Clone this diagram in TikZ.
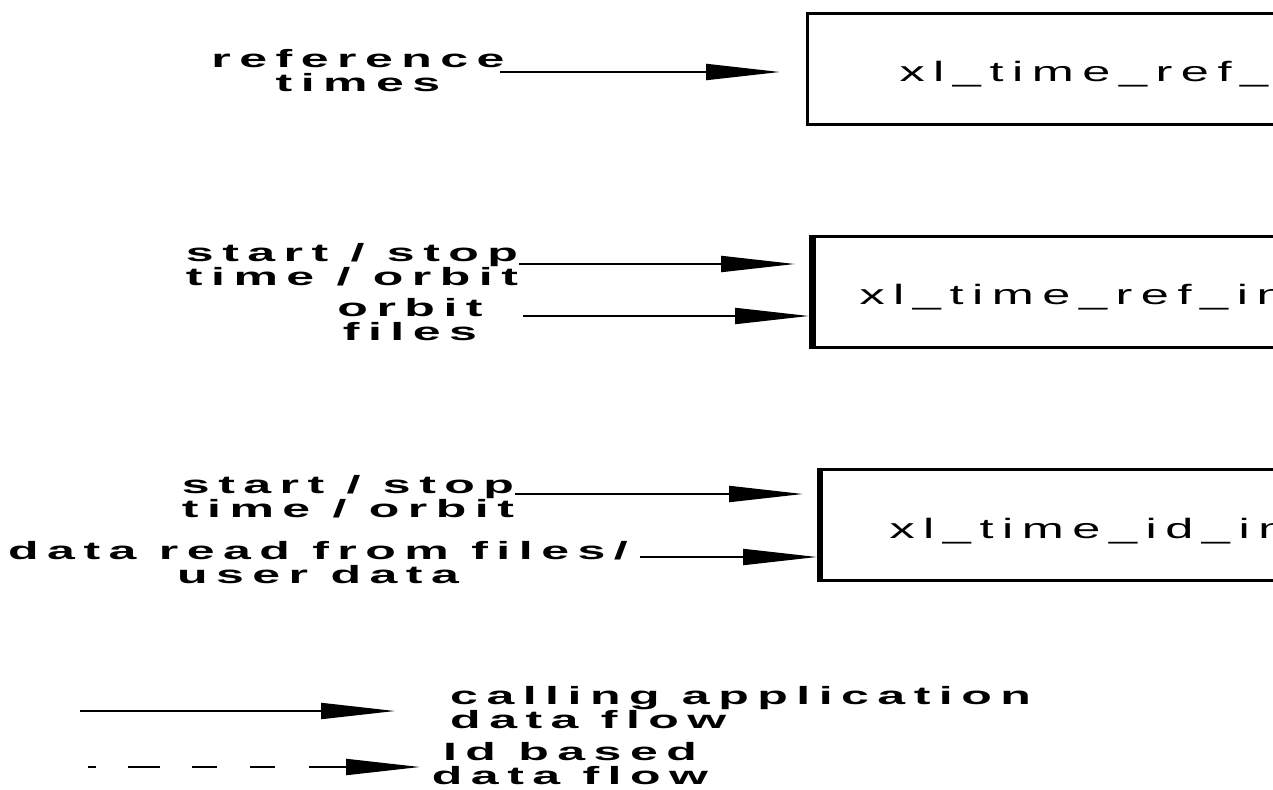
\documentclass[tikz,border=0pt]{standalone}
\usepackage{fontspec}
\usepackage{graphicx}
\usetikzlibrary{arrows.meta}
\setmainfont{Liberation Sans}
\newfontfamily\lblfont{Liberation Sans}[LetterSpace=17]
\newfontfamily\boxfont{Liberation Sans}[LetterSpace=17]
\newcommand\sx[1]{\scalebox{2.0}[1]{#1}}
\newcommand\bx[1]{\scalebox{1.8}[1]{#1}}
\tikzset{
  lbl/.style={inner sep=0pt, align=center, font=\lblfont\bfseries\fontsize{25}{24}\selectfont},
  boxtxt/.style={draw, line width=3pt, anchor=west, minimum height=111pt, text width=520pt,
     align=left, inner ysep=0pt, text height=26pt, text depth=0pt,
     font=\boxfont\fontsize{28}{28}\selectfont},
  flow/.style={line width=2pt, -{Triangle[length=74pt,width=16pt]}},
  thickedge/.style={line width=7pt}
}
\begin{document}
\begin{tikzpicture}[x=1pt,y=-1pt]
\useasboundingbox (0,0) rectangle (1273,789);

% boxes
\node[boxtxt, inner xsep=92.5pt] (b1) at (805.5,69) {\bx{xl\_time\_ref\_}};
\node[boxtxt, inner xsep=48pt] (b2) at (810,291.5) {\bx{xl\_time\_ref\_in}};
\node[boxtxt, inner xsep=70pt] (b3) at (818,525) {\bx{xl\_time\_id\_in}};
\draw[thickedge] ([xshift=2.5pt]b2.north west) -- ([xshift=2.5pt]b2.south west);
\draw[line width=6pt] ([xshift=2pt]b3.north west) -- ([xshift=2pt]b3.south west);

% labels
\node[lbl] (l1) at (358,71) {\sx{reference}\\\sx{times}};
\node[lbl] (l2) at (352,265) {\sx{start / stop}\\\sx{time / orbit}};
\node[lbl] (l3) at (410,320) {\sx{orbit}\\\sx{files}};
\node[lbl] (l4) at (348,497) {\sx{start / stop}\\\sx{time / orbit}};
\node[lbl] (l5) at (318,563) {\sx{data read from files/}\\\sx{user data}};
\node[lbl, anchor=west, align=left] (l6) at (450,708) {\sx{calling application}\\\sx{data flow}};
\node[lbl] (l7) at (570,764) {\sx{Id based}\\\sx{data flow}};

% connector start points
\coordinate (s1) at (500,72);
\coordinate (s2) at (519,264);
\coordinate (s3) at (523,316);
\coordinate (s4) at (515,494);
\coordinate (s5) at (640,557);
\coordinate (s6) at (80,711);
\coordinate (s7) at (88,767);
\coordinate (e7) at (420,767);

\draw[flow, shorten >=25.5pt] (s1) -- (s1 -| b1.west);
\draw[flow, shorten >=15pt] (s2) -- (s2 -| b2.west);
\draw[flow, shorten >=1pt] (s3) -- (s3 -| b2.west);
\draw[flow, shorten >=15pt] (s4) -- (s4 -| b3.west);
\draw[flow, shorten >=1pt] (s5) -- (s5 -| b3.west);

% legend
\draw[flow, shorten >=55pt] (s6) -- (s6 -| l6.west);
\draw[flow, dash pattern=on 8pt off 32pt on 32pt off 32pt on 25pt off 33pt on 25pt off 34pt on 300pt] (s7) -- (e7);
\end{tikzpicture}
\end{document}
